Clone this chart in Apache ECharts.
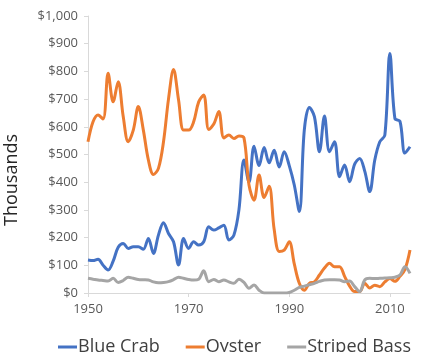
<!DOCTYPE html>
<html>
<head>
<meta charset="utf-8">
<script src="https://cdn.jsdelivr.net/npm/echarts@6/dist/echarts.min.js"></script>
<style>
html,body{margin:0;padding:0;background:#fff;}
#chart{width:423px;height:352px;}
</style>
</head>
<body>
<div id="chart"></div>
<script>
var years = [];
for (var y = 1950; y <= 2014; y++) years.push(String(y));

var xTickLabels = ['1950', '1970', '1990', '2010'];

var blueCrab = [
  119,117,122,100,83,115,165,179,161,167,
  167,158,197,143,209,254,215,185,101,197,
  161,185,173,185,239,227,235,245,191,209,
  300,480,400,530,460,525,470,515,455,510,
  460,390,294,590,670,637,510,639,510,546,
  420,462,402,465,486,440,366,480,546,570,
  865,630,620,505,528
];

var oyster = [
  546,618,643,628,793,690,763,637,546,588,
  673,588,480,428,450,545,700,807,697,588,
  588,618,690,715,590,610,655,560,570,558,
  567,560,390,335,426,345,385,230,150,155,
  185,105,35,10,35,40,65,90,107,95,
  95,60,25,5,5,35,18,28,23,40,
  52,42,60,85,155
];

var stripedBass = [
  53,50,47,45,43,53,38,45,57,53,
  49,48,47,40,37,38,41,48,57,53,
  49,47,50,80,41,49,41,47,40,35,
  50,38,17,29,10,0,0,0,0,0,
  2,10,20,25,30,35,42,47,48,48,
  47,41,43,23,5,47,53,52,53,54,
  55,57,65,95,71
];

var seriesNames = ['Blue Crab', 'Oyster', 'Striped Bass'];
var seriesColors = ['#4472C4', '#ED7D31', '#A5A5A5'];
var seriesData = [blueCrab, oyster, stripedBass];

var chart = echarts.init(document.getElementById('chart'));
var font = 'Open Sans';

var series = seriesNames.map(function (n, i) {
  return {
    name: n,
    type: 'line',
    data: seriesData[i],
    showSymbol: false,
    smooth: 0.35,
    lineStyle: { width: 3, color: seriesColors[i] },
    itemStyle: { color: seriesColors[i] }
  };
});

function showTick(idx, val) {
  return xTickLabels.indexOf(String(val)) !== -1;
}

chart.setOption({
  animation: false,
  backgroundColor: '#fff',
  grid: { left: 88, right: 13, top: 16, bottom: 59 },
  xAxis: {
    type: 'category',
    data: years,
    boundaryGap: false,
    axisLine: { lineStyle: { color: '#d9d9d9', width: 1 } },
    axisTick: { show: true, interval: showTick, length: 4, lineStyle: { color: '#d9d9d9' } },
    axisLabel: { interval: showTick, color: '#595959', fontSize: 13, fontFamily: font, margin: 10 },
    splitLine: { show: false }
  },
  yAxis: {
    type: 'value',
    min: 0, max: 1000, interval: 100,
    axisLine: { show: true, lineStyle: { color: '#d9d9d9', width: 1 } },
    axisTick: { show: true, length: 4, lineStyle: { color: '#d9d9d9' } },
    axisLabel: {
      color: '#595959', fontSize: 13, fontFamily: font, margin: 10,
      formatter: function (v) { return '$' + v.toLocaleString('en-US'); }
    },
    splitLine: { show: false }
  },
  legend: {
    data: seriesNames,
    left: 53,
    top: 333,
    icon: 'rect',
    itemWidth: 19,
    itemHeight: 3,
    itemGap: 26,
    textStyle: { color: '#404040', fontSize: 18, fontFamily: font, padding: [0, 0, 0, -4] }
  },
  graphic: [{
    type: 'text',
    x: 12, y: 180,
    rotation: Math.PI / 2,
    style: {
      text: 'Thousands',
      fill: '#262626',
      font: '18px "Open Sans"',
      textAlign: 'center',
      textVerticalAlign: 'middle'
    }
  }],
  series: series
});
</script>
</body>
</html>
